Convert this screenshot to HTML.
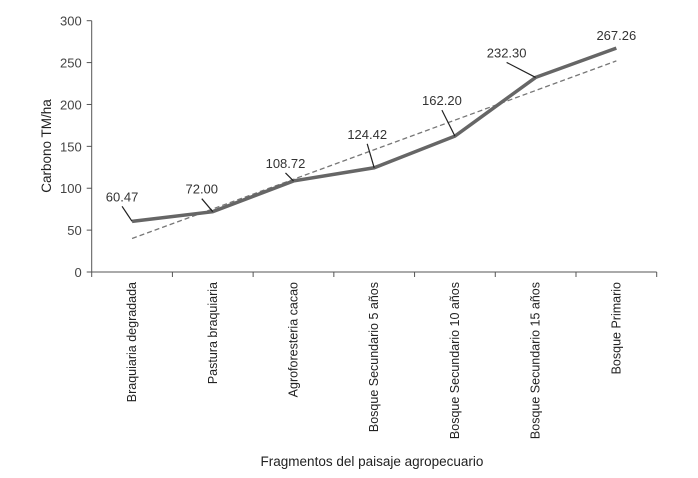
<!DOCTYPE html>
<html><head><meta charset="utf-8"><style>
body{margin:0;background:#fff}
svg{display:block;font-family:"Liberation Sans",sans-serif}
</style></head><body>
<svg width="698" height="478">
<g id="g"></g>
</svg>
<script>
const categories=["Braquiaria degradada","Pastura braquiaria","Agroforesteria cacao","Bosque Secundario 5 años","Bosque Secundario 10 años","Bosque Secundario 15 años","Bosque Primario"];
const values=[60.47,72.00,108.72,124.42,162.20,232.30,267.26];
const valueLabels=["60.47","72.00","108.72","124.42","162.20","232.30","267.26"];
const trendStart=40;
const trendEnd=252;
const yTicks=[0,50,100,150,200,250,300];
const labelOffsets=[[-10,-20],[-11,-18],[-8,-13],[-7,-29],[-13,-31],[-29,-20],[0,-8]];

const ns="http://www.w3.org/2000/svg";
const g=document.getElementById('g');
const x0=91.7,x1=656.7,yb=272,yt=20.7;
const bw=(x1-x0)/categories.length;
const X=i=>x0+bw*(i+0.5);
const Y=v=>yb-(v/300)*(yb-yt);
function el(t,a,p){const e=document.createElementNS(ns,t);for(const k in a)e.setAttribute(k,a[k]);(p||g).appendChild(e);return e;}

let ax=el('line',{x1:x0,y1:yb,x2:x0,y2:yt,stroke:'#555','stroke-width':1});


let bx=el('line',{x1:x0,y1:yb,x2:x1,y2:yb,stroke:'#555','stroke-width':1});


yTicks.forEach(v=>{
  el('line',{x1:x0-5,y1:Y(v),x2:x0,y2:Y(v),stroke:'#555'});
  const t=el('text',{x:x0-10,y:Y(v)+5,'text-anchor':'end','font-size':13,fill:'#444'});
  t.textContent=v;
  
  
});
for(let i=0;i<=categories.length;i++){el('line',{x1:x0+bw*i,y1:yb,x2:x0+bw*i,y2:yb+5,stroke:'#555'});}
categories.forEach((c,i)=>{
  const t=el('text',{x:0,y:0,'text-anchor':'end','font-size':12.5,fill:'#222',transform:`translate(${X(i)+4},${yb+10}) rotate(-90)`});
  t.textContent=c;
  
  
});
const tr=el('line',{x1:X(0),y1:Y(trendStart),x2:X(categories.length-1),y2:Y(trendEnd),stroke:'#777','stroke-width':1.3,'stroke-dasharray':'5,3'});


const ln=el('polyline',{points:values.map((v,i)=>X(i)+','+Y(v)).join(' '),fill:'none',stroke:'#666','stroke-width':3.5,'stroke-linejoin':'miter'});


values.forEach((v,i)=>{
  const px=X(i),py=Y(v),[dx,dy]=labelOffsets[i];
  const lx=px+dx,ly=py+dy;
  if(i<values.length-1){const l=el('line',{x1:lx,y1:ly+5,x2:px,y2:py,stroke:'#222','stroke-width':1.2});
  
  }
  const t=el('text',{x:lx,y:ly,'text-anchor':'middle','font-size':13,fill:'#333'});
  t.textContent=valueLabels[i];
  
  
});
const yt2=el('text',{x:0,y:0,'text-anchor':'middle','font-size':13.5,fill:'#222',transform:'translate(51,146) rotate(-90)'});
yt2.textContent='Carbono TM/ha';


const xt=el('text',{x:372,y:466,'text-anchor':'middle','font-size':13.5,fill:'#222'});
xt.textContent='Fragmentos del paisaje agropecuario';


</script>
</body></html>
